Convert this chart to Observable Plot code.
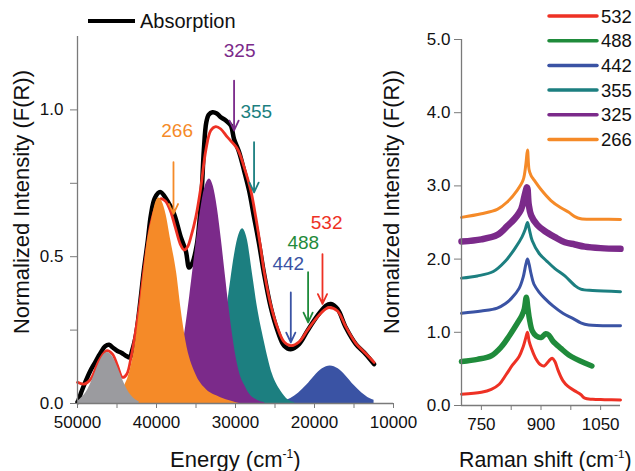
<!DOCTYPE html>
<html><head><meta charset="utf-8">
<script src="https://cdn.jsdelivr.net/npm/d3@7"></script>
<script src="https://cdn.jsdelivr.net/npm/@observablehq/plot@0.6"></script>
<style>
body{margin:0;background:#fff;}
#chart{position:relative;width:635px;height:471px;overflow:hidden;background:#fff;}
#chart svg{position:absolute;top:0;}
</style></head><body><div id="chart"></div><script>
// ---------- Left panel: absorption (energy in cm^-1) ----------
const absX = [50000, 49900, 49500, 48950, 48400, 47900, 47050, 46500, 46000, 45500, 44940, 44400, 43890, 43340, 43130, 42620, 42110, 41610, 41100, 40720, 40210, 39540, 38610, 37770, 36920, 36290, 35870, 35440, 34900, 34520, 34270, 34010, 33700, 33380, 32910, 32370, 31860, 31230, 30600, 30180, 29540, 28910, 28280, 27650, 27010, 26380, 25530, 24680, 23850, 23000, 21950, 20890, 19620, 18570, 17940, 17090, 16040, 14770, 13510, 12460];
const absY = [0.005, 0.01, 0.04, 0.077, 0.11, 0.134, 0.174, 0.195, 0.200, 0.19, 0.179, 0.172, 0.163, 0.157, 0.175, 0.23, 0.333, 0.452, 0.555, 0.64, 0.70, 0.72, 0.69, 0.645, 0.566, 0.52, 0.463, 0.48, 0.54, 0.634, 0.725, 0.862, 0.957, 0.984, 0.992, 0.988, 0.975, 0.964, 0.947, 0.90, 0.856, 0.793, 0.725, 0.634, 0.543, 0.441, 0.327, 0.248, 0.197, 0.185, 0.2025, 0.248, 0.299, 0.333, 0.339, 0.322, 0.259, 0.2025, 0.168, 0.134];

const fitX = [50000, 49160, 48320, 47270, 46290, 45570, 44940, 44300, 43760, 43200, 42620, 42110, 41610, 41100, 40720, 40090, 39460, 38890, 38250, 37620, 36990, 36510, 36040, 35660, 35030, 34390, 33760, 33130, 32500, 31860, 31020, 29750, 28910, 28060, 27430, 26890, 26380, 25530, 24680, 23850, 23000, 21950, 20890, 19620, 18570, 18150, 17090, 16040, 14770, 13510, 12460];
const fitY = [0.072, 0.066, 0.083, 0.146, 0.18, 0.168, 0.129, 0.089, 0.10, 0.16, 0.25, 0.34, 0.45, 0.55, 0.61, 0.67, 0.697, 0.69, 0.657, 0.60, 0.543, 0.523, 0.535, 0.566, 0.634, 0.736, 0.862, 0.93, 0.943, 0.935, 0.907, 0.867, 0.805, 0.725, 0.634, 0.543, 0.45, 0.335, 0.258, 0.21, 0.197, 0.21, 0.25, 0.295, 0.322, 0.327, 0.315, 0.262, 0.205, 0.17, 0.14];

const grayX = [50000, 49700, 49200, 48700, 48200, 47700, 47200, 46700, 46200, 45700, 45200, 44700, 44200, 43700, 43200, 42700, 42200];
const grayY = [0.008, 0.014, 0.027, 0.047, 0.076, 0.109, 0.141, 0.165, 0.174, 0.165, 0.141, 0.109, 0.076, 0.047, 0.027, 0.014, 0.006];

const orangeX = [45500, 44800, 44180, 43470, 42620, 42110, 41650, 41140, 40700, 40100, 39700, 39300, 38800, 38190, 37430, 36920, 36290, 35030, 33970, 31860, 30500, 29500];
const orangeY = [0.008, 0.033, 0.055, 0.10, 0.214, 0.327, 0.441, 0.555, 0.614, 0.685, 0.70, 0.688, 0.645, 0.555, 0.441, 0.327, 0.214, 0.10, 0.055, 0.02, 0.008, 0.0];

const purpleX = [40300, 39300, 38300, 37800, 37300, 36800, 36300, 35800, 35300, 34800, 34300, 33800, 33300, 32800, 32300, 31800, 31300, 30800, 30300, 29800, 29300, 28800, 28300, 27300, 26300];
const purpleY = [0.003, 0.011, 0.039, 0.069, 0.114, 0.178, 0.262, 0.364, 0.475, 0.585, 0.679, 0.743, 0.765, 0.739, 0.666, 0.560, 0.44, 0.322, 0.22, 0.14, 0.088, 0.06, 0.035, 0.012, 0.003];

const tealX = [35100, 34100, 33600, 33100, 32600, 32100, 31600, 31100, 30600, 30100, 29600, 29100, 28800, 28480, 27850, 27220, 26380, 25320, 24270, 23300, 22500];
const tealY = [0.002, 0.0125, 0.026, 0.050, 0.090, 0.148, 0.227, 0.321, 0.420, 0.510, 0.572, 0.595, 0.585, 0.555, 0.441, 0.327, 0.214, 0.1, 0.043, 0.012, 0.003];

const blueX = [25000, 24000, 23000, 22000, 21000, 20000, 19000, 18000, 17000, 16000, 15000, 14000, 13000, 12460];
const blueY = [0.003, 0.007, 0.017, 0.036, 0.062, 0.093, 0.118, 0.128, 0.118, 0.093, 0.062, 0.036, 0.017, 0.011];

// laser-line annotations (arrows + labels)
const laserNames = ["266", "325", "355", "442", "488", "532"];
const arrowX = [37850, 30180, 27650, 23000, 20810, 18990];
const arrowTop = [0.822, 1.100, 0.890, 0.378, 0.447, 0.509];
const arrowBottom = [0.646, 0.930, 0.719, 0.208, 0.276, 0.339];
const labelX = [37390, 29480, 27370, 23320, 21420, 18470];
const labelY = [0.907, 1.179, 0.971, 0.455, 0.527, 0.596];

const energyTicks = [50000, 40000, 30000, 20000, 10000];
const energyMinor = [45000, 35000, 25000, 15000];
const absTicks = [0, 0.5, 1.0];
const absMinor = [0.25, 0.75];

// ---------- Right panel: Raman spectra ----------
const r532X = [700, 750, 775, 795, 812, 828, 845, 855, 862, 866, 870, 876, 886, 898, 908, 920, 928, 935, 943, 955, 968, 985, 1000, 1010, 1030, 1060, 1100];
const r532Y = [0.155, 0.18, 0.22, 0.29, 0.42, 0.55, 0.67, 0.80, 0.93, 1.0, 0.88, 0.78, 0.65, 0.56, 0.54, 0.61, 0.645, 0.60, 0.48, 0.34, 0.26, 0.20, 0.15, 0.10, 0.085, 0.08, 0.075];
const r488X = [700, 740, 775, 800, 820, 840, 852, 858, 863, 867, 871, 878, 888, 900, 912, 920, 930, 950, 970, 990, 1010, 1028];
const r488Y = [0.60, 0.63, 0.68, 0.80, 0.95, 1.12, 1.23, 1.32, 1.48, 1.33, 1.18, 1.02, 0.95, 0.93, 0.98, 0.96, 0.88, 0.78, 0.69, 0.63, 0.58, 0.54];
const r442X = [700, 750, 790, 810, 825, 845, 855, 862, 866, 870, 875, 882, 895, 910, 930, 955, 980, 1000, 1020, 1100];
const r442Y = [1.26, 1.29, 1.33, 1.39, 1.46, 1.60, 1.75, 1.93, 2.0, 1.93, 1.80, 1.66, 1.55, 1.46, 1.36, 1.26, 1.19, 1.13, 1.10, 1.09];
const r355X = [700, 740, 780, 810, 835, 852, 860, 866, 870, 878, 895, 915, 935, 960, 985, 1000, 1030, 1100];
const r355Y = [1.74, 1.77, 1.83, 1.97, 2.15, 2.30, 2.40, 2.50, 2.42, 2.25, 2.08, 1.97, 1.87, 1.77, 1.64, 1.59, 1.57, 1.555];
const r325X = [700, 750, 790, 815, 835, 850, 858, 865, 869, 875, 890, 910, 935, 960, 985, 1010, 1050, 1100];
const r325Y = [2.24, 2.27, 2.33, 2.45, 2.56, 2.68, 2.85, 2.98, 2.75, 2.60, 2.47, 2.38, 2.30, 2.23, 2.20, 2.17, 2.15, 2.14];
const r266X = [700, 750, 790, 815, 840, 855, 862, 866, 870, 875, 880, 900, 925, 950, 970, 985, 1000, 1050, 1100];
const r266Y = [2.57, 2.62, 2.68, 2.78, 2.94, 3.08, 3.30, 3.49, 3.22, 3.14, 3.10, 2.95, 2.80, 2.70, 2.64, 2.58, 2.55, 2.545, 2.54];

const ramanTicks = [750, 900, 1050];
const ramanMinor = [825, 975];
const ramanYTicks = [0, 1, 2, 3, 4, 5];
const legendOrder = ["532", "488", "442", "355", "325", "266"];

// ---------- styling ----------
const FONT = "'Liberation Sans', Arial, Helvetica, sans-serif";
const AXIS = "#7a7a7a";
const COLORS = {"532": "#ee3124", "488": "#1f8b3b", "442": "#3a53a4", "355": "#1c7f80", "325": "#7b2a8a", "266": "#f58a28"};
const GRAY = "#9b9b9f";

const rows = (xs, ys) => xs.map((x, i) => ({x, y: ys[i]}));
const arrows = laserNames.map((n, i) => ({n, x: arrowX[i], top: arrowTop[i], bottom: arrowBottom[i], c: COLORS[n]}));
const labels = laserNames.map((n, i) => ({n, x: labelX[i], y: labelY[i], c: COLORS[n]}));

const chart = document.getElementById("chart");

const plot1 = Plot.plot({
  width: 400, height: 471,
  marginLeft: 77, marginRight: 7, marginTop: 36, marginBottom: 68,
  style: {background: "transparent", fontFamily: FONT, fontSize: "17px", color: "#111", overflow: "visible"},
  x: {domain: [50000, 10000]},
  y: {domain: [0, 1.25]},
  color: {type: "identity"},
  marks: [
    Plot.line(rows(absX, absY), {x: "x", y: "y", stroke: "#000", strokeWidth: 4.5, curve: "catmull-rom", strokeLinejoin: "round"}),
    Plot.line(rows(fitX, fitY), {x: "x", y: "y", stroke: COLORS["532"], strokeWidth: 2.8, curve: "catmull-rom"}),
    Plot.areaY(rows(blueX, blueY), {x: "x", y: "y", fill: COLORS["442"], curve: "monotone-x"}),
    Plot.areaY(rows(tealX, tealY), {x: "x", y: "y", fill: COLORS["355"], curve: "monotone-x"}),
    Plot.areaY(rows(purpleX, purpleY), {x: "x", y: "y", fill: COLORS["325"], curve: "monotone-x"}),
    Plot.areaY(rows(orangeX, orangeY), {x: "x", y: "y", fill: COLORS["266"], curve: "monotone-x"}),
    Plot.areaY(rows(grayX, grayY), {x: "x", y: "y", fill: GRAY, curve: "monotone-x"}),
    Plot.arrow(arrows, {x1: "x", x2: "x", y1: "top", y2: "bottom", stroke: "c", strokeWidth: 1.8, headLength: 9, headAngle: 50}),
    Plot.text(labels, {x: "x", y: "y", text: "n", fill: "c", fontSize: 19, lineAnchor: "bottom"}),
    Plot.ruleY([0], {stroke: AXIS, strokeWidth: 1.3}),
    Plot.ruleX([50000], {stroke: AXIS, strokeWidth: 1.3}),
    Plot.axisX([...energyTicks, ...energyMinor], {tickSize: 5, tickFormat: () => "", color: AXIS, label: null}),
    Plot.axisX(energyTicks, {tickSize: 0, tickPadding: 12, tickFormat: d => String(d), color: "#111", label: null}),
    Plot.axisY([...absTicks, ...absMinor], {tickSize: 7, tickFormat: () => "", color: AXIS, label: null}),
    Plot.axisY(absTicks, {tickSize: 0, tickPadding: 14, tickFormat: d3.format(".1f"), color: "#111", label: null})
  ]
});
plot1.style.left = "0px";
chart.appendChild(plot1);

const ramanSeries = [
  ["532", r532X, r532Y, 3], ["488", r488X, r488Y, 5.5], ["442", r442X, r442Y, 3],
  ["355", r355X, r355Y, 3], ["325", r325X, r325Y, 6.5], ["266", r266X, r266Y, 3]
];

const plot2 = Plot.plot({
  width: 245, height: 471,
  marginLeft: 71, marginRight: 15, marginTop: 39, marginBottom: 66,
  style: {background: "transparent", fontFamily: FONT, fontSize: "17px", color: "#111", overflow: "visible"},
  x: {domain: [700, 1100]},
  y: {domain: [0, 5]},
  color: {type: "identity"},
  marks: [
    ...ramanSeries.map(([n, xs, ys, w]) => Plot.line(rows(xs, ys), {x: "x", y: "y", stroke: COLORS[n], strokeWidth: w, curve: "catmull-rom", strokeLinejoin: "round"})),
    Plot.ruleY([0], {stroke: AXIS, strokeWidth: 1.3}),
    Plot.ruleX([700], {stroke: AXIS, strokeWidth: 1.3}),
    Plot.axisX([...ramanTicks, ...ramanMinor], {tickSize: 5, tickFormat: () => "", color: AXIS, label: null}),
    Plot.axisX(ramanTicks, {tickSize: 0, tickPadding: 12, tickFormat: d => String(d), color: "#111", label: null}),
    Plot.axisY(ramanYTicks, {tickSize: 7, tickFormat: () => "", color: AXIS, label: null}),
    Plot.axisY(ramanYTicks, {tickSize: 0, tickPadding: 11, tickFormat: d3.format(".1f"), color: "#111", label: null})
  ]
});
plot2.style.left = "390px";
chart.appendChild(plot2);

// ---------- overlay: legends and axis titles ----------
const ov = d3.create("svg").attr("width", 635).attr("height", 471)
  .style("left", "0px").style("pointer-events", "none")
  .attr("font-family", FONT).attr("fill", "#111");

ov.append("line").attr("x1", 88).attr("x2", 135).attr("y1", 21).attr("y2", 21)
  .attr("stroke", "#000").attr("stroke-width", 4);
ov.append("text").attr("x", 140).attr("y", 28).attr("font-size", 20).text("Absorption");

legendOrder.forEach((n, i) => {
  const y = 16 + i * 24.7;
  ov.append("line").attr("x1", 549).attr("x2", 597).attr("y1", y).attr("y2", y)
    .attr("stroke", COLORS[n]).attr("stroke-width", 3.5).attr("stroke-linecap", "round");
  ov.append("text").attr("x", 601).attr("y", y + 6.6).attr("font-size", 18.5).text(n);
});

function title(x, y, main, size) {
  const t = ov.append("text").attr("font-size", size)
    .attr("transform", `translate(${x},${y})`);
  t.append("tspan").text(main);
  t.append("tspan").attr("font-size", size * 0.55).attr("dy", -size * 0.41).text("-1");
  t.append("tspan").attr("dy", size * 0.41).text(")");
}
title(170, 467, "Energy (cm", 22);
title(459, 467, "Raman shift (cm", 21.3);

[[29, 202], [399, 202]].forEach(([x, y]) => {
  ov.append("text").attr("font-size", 22).attr("text-anchor", "middle")
    .attr("transform", `translate(${x},${y}) rotate(-90)`)
    .text("Normalized Intensity (F(R))");
});
chart.appendChild(ov.node());
</script></body></html>
